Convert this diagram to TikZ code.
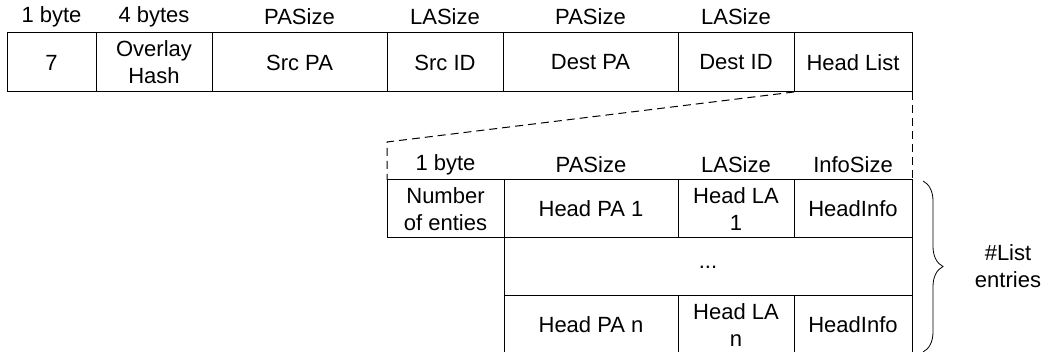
\documentclass[tikz,border=0pt]{standalone}
\usepackage{fontspec}
\setmainfont{Liberation Sans}
\usepackage{tikz}
\usetikzlibrary{positioning, decorations.pathreplacing, calc}

\begin{document}
\begin{tikzpicture}[
    x=1pt, y=-1pt,
    every node/.style={font=\fontsize{22}{27}\selectfont},
    cell/.style={rectangle, draw, line width=1pt, align=center, inner sep=0pt, outer sep=0pt,
        anchor=north west, minimum height=#1},
    cell/.default=58pt,
    hdr/.style={anchor=center, inner sep=0pt},
    zoom/.style={line width=1pt, dash pattern=on 8pt off 5pt},
    brc/.style={line width=0.8pt, decorate, decoration={brace, amplitude=20pt}},
]
    \useasboundingbox (0,0) rectangle (1045,352);
    % --- Vertical grid ---
    \def\yT{33}    % top packet row
    \def\yL{180}   % head list table

    % --- Top packet row ---
    \node[cell=59pt, minimum width=89pt]  (seven) at (7,\yT) {7};
    \node[cell=59pt, minimum width=116pt] (hash)  at (seven.north east) {Overlay\\Hash};
    \node[cell=59pt, minimum width=175pt] (srcpa) at (hash.north east) {Src PA};
    \node[cell=59pt, minimum width=116pt] (srcid) at (srcpa.north east) {Src ID};
    \node[cell=59pt, minimum width=175pt] (dstpa) at (srcid.north east) {Dest PA};
    \node[cell=59pt, minimum width=116pt] (dstid) at (dstpa.north east) {Dest ID};
    \node[cell=59pt, minimum width=118pt] (hlist) at (dstid.north east) {Head List};

    % --- Field sizes over the top row ---
    \node[hdr] (szseven) at ([yshift=16pt]seven.north) {1 byte};
    \node[hdr] (szhash)  at ([yshift=16pt]hash.north)  {4 bytes};
    \node[hdr] (szsrcpa) at ([yshift=16pt]srcpa.north) {PASize};
    \node[hdr] (szsrcid) at ([yshift=16pt]srcid.north) {LASize};
    \node[hdr] (szdstpa) at ([yshift=16pt]dstpa.north) {PASize};
    \node[hdr] (szdstid) at ([yshift=16pt]dstid.north) {LASize};

    % --- Head list table ---
    \node[cell, minimum width=117pt] (num)   at (387,\yL) {Number\\of enties};
    \node[cell, minimum width=174pt] (hpa1)  at (num.north east)  {Head PA 1};
    \node[cell, minimum width=116pt] (hla1)  at (hpa1.north east) {Head LA\\1};
    \node[cell, minimum width=118pt] (hinf1) at (hla1.north east) {HeadInfo};
    \node[cell, minimum width=408pt] (dots)  at (hpa1.south west) {...};
    \node[cell, minimum width=174pt] (hpan)  at (dots.south west) {Head PA n};
    \node[cell, minimum width=116pt] (hlan)  at (hpan.north east) {Head LA\\n};
    \node[cell, minimum width=118pt] (hinfn) at (hlan.north east) {HeadInfo};

    % --- Field sizes over the head list ---
    \node[hdr] (sznum)  at ([yshift=15pt]num.north)   {1 byte};
    \node[hdr] (szhpa)  at ([yshift=15pt]hpa1.north)  {PASize};
    \node[hdr] (szhla)  at ([yshift=15pt]hla1.north)  {LASize};
    \node[hdr] (szhinf) at ([yshift=15pt]hinf1.north) {InfoSize};

    % --- Zoom lines from Head List ---
    \coordinate (zoomL) at (387,142);
    \draw[zoom] (hlist.south west) -- (zoomL) -- (num.north west);
    \draw[zoom] (hlist.south east) -- (hinf1.north east);

    % --- Brace over the list entries ---
    \coordinate (brT) at (923,181);
    \coordinate (brB) at (923,352);
    \draw[brc] (brT) -- (brB);
    \node[align=center] (lst) at (1008,266) {\#List\\entries};
\end{tikzpicture}
\end{document}
